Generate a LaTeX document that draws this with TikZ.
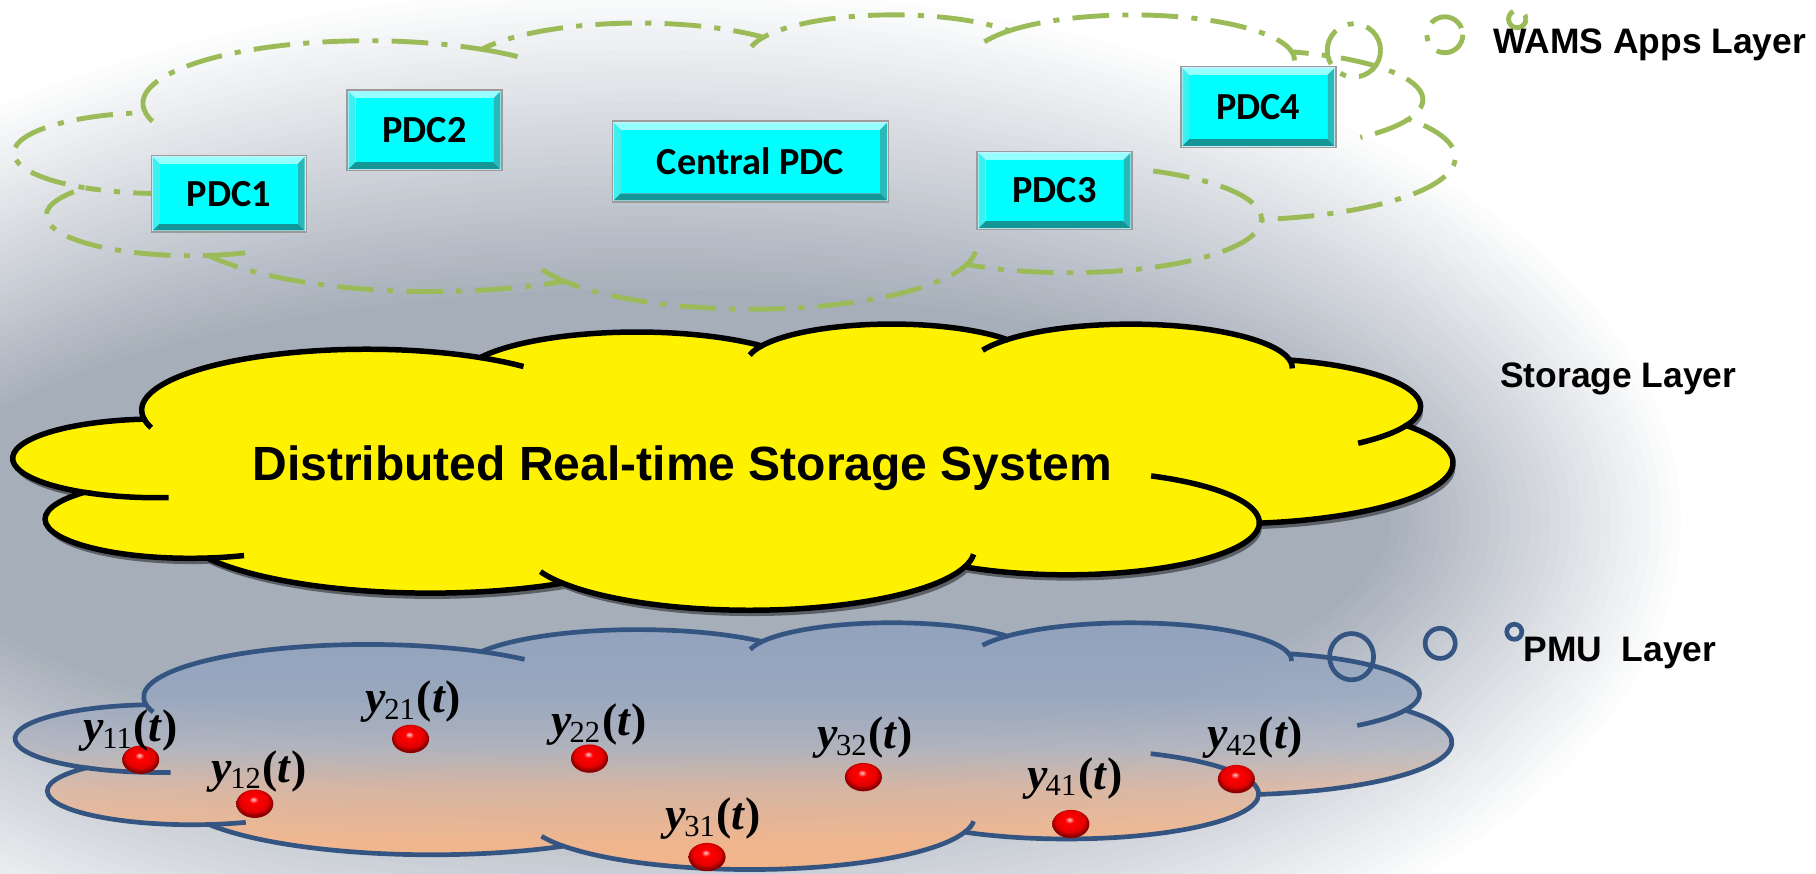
\documentclass[tikz,border=0pt]{standalone}
\usepackage{fontspec}
\usetikzlibrary{shapes.geometric,calc}
\newfontfamily\arialf{Liberation Sans}
\newfontfamily\calf{Carlito}
\newfontfamily\timesf{Liberation Serif}
\definecolor{bggray}{RGB}{166,174,186}
\definecolor{wamsgreen}{RGB}{155,187,89}
\definecolor{pmublue}{RGB}{52,85,130}
\definecolor{pmuA}{RGB}{142,160,190}
\definecolor{pmuB}{RGB}{150,166,192}
\definecolor{pmuC}{RGB}{178,180,190}
\definecolor{pmuD}{RGB}{222,180,155}
\definecolor{pmuE}{RGB}{250,178,128}
\definecolor{pmuF}{RGB}{255,175,118}
\definecolor{pdccyan}{RGB}{0,255,255}
\definecolor{pdctopc}{RGB}{150,255,255}
\definecolor{pdcleftc}{RGB}{60,240,240}
\definecolor{pdcbotc}{RGB}{20,150,150}
\definecolor{pdcrightc}{RGB}{40,185,185}
\definecolor{pdcframe}{RGB}{155,155,155}
\pgfdeclareradialshading{redball}{\pgfpoint{-2bp}{8bp}}{color(0bp)=(red!20!white); color(6bp)=(red); color(19bp)=(red!90!black); color(25bp)=(red!55!black); color(50bp)=(red!55!black)}
\pgfdeclareverticalshading{pmushade}{100bp}{color(0bp)=(pmuF); color(25bp)=(pmuF); color(32bp)=(pmuE); color(42bp)=(pmuD); color(50bp)=(pmuC); color(60bp)=(pmuB); color(75bp)=(pmuA); color(100bp)=(pmuA)}

% PowerPoint cloud outline in a 432 x 432 box (y downwards)
\newcommand{\pptcloud}[1]{%
\path[#1] (39.00,143.70)
 arc[start angle=-187.75,end angle=-59.64,x radius=67.53,y radius=91.90]
 arc[start angle=-152.02,end angle=-45.45,x radius=53.33,y radius=72.67]
 arc[start angle=-153.49,end angle=-37.32,x radius=43.65,y radius=59.45]
 arc[start angle=-139.71,end angle=-10.22,x radius=48.57,y radius=65.95]
 arc[start angle=-74.77,end angle=23.21,x radius=53.33,y radius=72.73]
 arc[start angle=-37.54,end angle=81.86,x radius=67.75,y radius=92.20]
 arc[start angle=0.46,end angle=121.98,x radius=57.85,y radius=78.67]
 arc[start angle=16.85,end angle=146.23,x radius=67.52,y radius=92.15]
 arc[start angle=58.97,end angle=150.19,x radius=77.20,y radius=105.43]
 arc[start angle=83.31,end angle=223.12,x radius=43.60,y radius=59.18]
 arc[start angle=120.35,end angle=264.11,x radius=43.45,y radius=59.45]
 -- cycle;}
\newcommand{\pptfolds}[1]{%
\path[#1]
 (46.46,263.48) arc[start angle=85.54,end angle=120.35,x radius=43.45,y radius=59.45]
 (69.11,350.94) arc[start angle=68.24,end angle=83.31,x radius=43.60,y radius=59.18]
 (164.81,392.69) arc[start angle=146.23,end angle=158.47,x radius=67.52,y radius=92.15]
 (288.23,349.05) arc[start angle=4.73,end angle=16.85,x radius=67.52,y radius=92.15]
 (341.54,230.71) arc[start angle=-64.02,end angle=0.46,x radius=57.85,y radius=78.67]
 (418.19,154.61) arc[start angle=23.21,end angle=49.65,x radius=53.33,y radius=72.73]
 (383.18,55.77) arc[start angle=-10.22,end angle=0.82,x radius=48.57,y radius=65.95]
 (290.91,40.95) arc[start angle=-156.29,end angle=-139.71,x radius=48.57,y radius=65.95]
 (220.98,48.22) arc[start angle=-167.72,end angle=-153.49,x radius=43.65,y radius=59.45]
 (140.05,52.02) arc[start angle=-59.64,end angle=-45.74,x radius=67.53,y radius=91.90]
 (41.26,157.89) arc[start angle=163.19,end angle=172.25,x radius=67.53,y radius=91.90];}

\newcommand{\pdcbox}[6]{%
 \fill[pdcframe] (#2,#3) rectangle (#4,#5);
 \fill[white!80!cyan] (#2+1.2,#3+1.2) rectangle (#4-1.2,#5-1.2);
 \fill[pdctopc] (#2+2,#3+2) -- (#4-2,#3+2) -- (#4-8,#3+8) -- (#2+8,#3+8) -- cycle;
 \fill[pdcleftc] (#2+2,#3+2) -- (#2+8,#3+8) -- (#2+8,#5-8) -- (#2+2,#5-2) -- cycle;
 \fill[pdcrightc] (#4-2,#3+2) -- (#4-2,#5-2) -- (#4-8,#5-8) -- (#4-8,#3+8) -- cycle;
 \fill[pdcbotc] (#2+2,#5-2) -- (#4-2,#5-2) -- (#4-8,#5-8) -- (#2+8,#5-8) -- cycle;
 \fill[pdccyan] (#2+8,#3+8) rectangle (#4-8,#5-8);
 \node[pdctext] (#1) at ({(#2+#4)/2},{(#3+#5)/2}) {#6};
}
\newcommand{\yl}[1]{\textbf{\textit{y}}\kern-0.04em\raisebox{-0.3ex}{\fontsize{15}{15}\selectfont #1}\kern0.04em\textbf{(}\textbf{\textit{t}}\textbf{)}}

\tikzset{
 wams/.style={draw=wamsgreen, line width=2.4pt, dash pattern=on 18pt off 6.5pt on 3pt off 6.5pt},
 pmuln/.style={draw=pmublue, line width=2.3pt},
 yel/.style={draw=black, line width=2.7pt},
 sphere/.style={ellipse, minimum width=0.64cm, minimum height=0.49cm, inner sep=0pt, shade, shading=redball},
 pdctext/.style={font=\calf\bfseries\fontsize{18.8}{20}\selectfont, inner sep=0pt, text=black},
 layerlabel/.style={font=\arialf\bfseries\fontsize{17.4}{20}\selectfont, inner sep=0pt, anchor=base west},
 ylabel/.style={font=\timesf\fontsize{22.5}{24}\selectfont, inner sep=0pt},
}

\begin{document}
\begin{tikzpicture}[x=0.02cm, y=-0.02cm]
\useasboundingbox (0,0) rectangle (1568,754);
\clip (0,0) rectangle (1568,754);
% background
\fill[white] (0,0) rectangle (1568,754);
\foreach \i in {30,29,...,0}{
  \pgfmathsetmacro\rx{640+260*\i/30}
  \pgfmathsetmacro\ry{200+270*\i/30}
  \pgfmathsetmacro\pc{100-100*\i/30}
  \fill[bggray!\pc!white] (560,450) ellipse [x radius=\rx, y radius=\ry];
}

% WAMS apps layer cloud
\begin{scope}[shift={(13,12)}, xscale=1243/432, yscale=254/432]
  \pptcloud{wams}
  \pptfolds{wams}
\end{scope}
\draw[wams] (1169,43.5) circle [radius=23];
\draw[wams] (1247.5,30) circle [radius=15.5];
\draw[wams] (1310,16.5) circle [radius=7.5];

% PDC boxes
\pdcbox{pdc1}{130}{133.5}{265}{201}{PDC1}
\pdcbox{pdc2}{299}{77}{434}{148}{PDC2}
\pdcbox{cpdc}{528}{104}{768}{175}{Central PDC}
\pdcbox{pdc3}{843}{130}{978}{199}{PDC3}
\pdcbox{pdc4}{1019}{57}{1154}{128}{PDC4}

% storage cloud
\begin{scope}[shift={(14,284)}, xscale=1242/432, yscale=247/432]
  \pptcloud{fill=black, opacity=0.45}
\end{scope}
\begin{scope}[shift={(12,279)}, xscale=1242/432, yscale=247/432]
  \pptcloud{fill=yellow, yel}
  \pptfolds{yel}
\end{scope}
\node[font=\arialf\bfseries\fontsize{23.6}{26}\selectfont, inner sep=0pt, anchor=base] (drss) at (589,414.5) {Distributed Real-time Storage System};

% PMU cloud
\begin{scope}[shift={(14,537)}, xscale=1239/432, yscale=213/432]
  \pptcloud{shade, shading=pmushade, fill opacity=0.8}
  \pptcloud{pmuln}
  \pptfolds{pmuln}
\end{scope}
\draw[pmuln] (1167,567) ellipse [x radius=19, y radius=20];
\draw[pmuln] (1243.5,555.5) circle [radius=13];
\draw[pmuln] (1307.5,545.5) circle [radius=6.5];

% PMUs
\node[sphere] (s11) at (121.5,656) {};
\node[sphere] (s12) at (220,694) {};
\node[sphere] (s21) at (354.5,638) {};
\node[sphere] (s22) at (509,655) {};
\node[sphere] (s31) at (610.5,740) {};
\node[sphere] (s32) at (745.5,671) {};
\node[sphere] (s41) at (924.6,711.5) {};
\node[sphere] (s42) at (1067.5,672.7) {};

\node[ylabel] (l11) at (113,631) {\yl{11}};
\node[ylabel] (l12) at (224,666) {\yl{12}};
\node[ylabel] (l21) at (357,606) {\yl{21}};
\node[ylabel] (l22) at (517,626) {\yl{22}};
\node[ylabel] (l31) at (616,707) {\yl{31}};
\node[ylabel] (l32) at (747,637) {\yl{32}};
\node[ylabel] (l41) at (928,672) {\yl{41}};
\node[ylabel] (l42) at (1084,637) {\yl{42}};

% layer labels
\node[layerlabel] (wamslbl) at (1289,46) {WAMS Apps Layer};
\node[layerlabel] (storlbl) at (1295,335) {Storage Layer};
\node[layerlabel] (pmulbl) at (1315,571) {PMU\ \ Layer};
\end{tikzpicture}
\end{document}
